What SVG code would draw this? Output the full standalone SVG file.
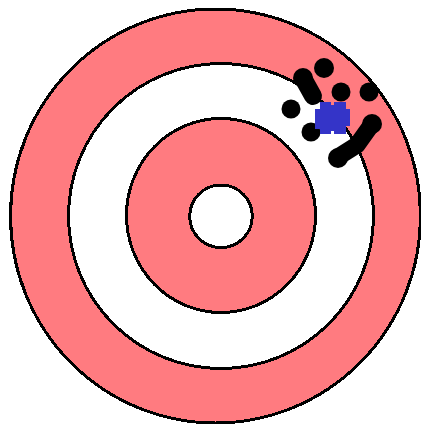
<svg xmlns="http://www.w3.org/2000/svg" width="421" height="424" viewBox="0 0 421 424">
<style>
.ring{stroke:#000;stroke-width:3}
.pink{fill:#ff7b80}
.white{fill:#fff}
.hit{fill:#000}
.trail{fill:none;stroke:#000;stroke-linecap:round;stroke-linejoin:round}
</style>
<rect width="421" height="424" fill="#fff"/>
<g id="target" shape-rendering="crispEdges">
<ellipse class="ring pink" cx="215.5" cy="216" rx="205" ry="207"/>
<circle class="ring white" cx="221" cy="216" r="152.5"/>
<ellipse class="ring pink" cx="221" cy="215.5" rx="94.5" ry="97"/>
<circle class="ring white" cx="221" cy="216.3" r="31.3"/>
</g>
<g id="hits">
<circle class="hit" cx="324" cy="68" r="10"/>
<circle class="hit" cx="303" cy="78" r="10"/>
<path class="trail" d="M303 78 L313 96" stroke-width="18"/>
<circle class="hit" cx="341" cy="92" r="9.5"/>
<circle class="hit" cx="369" cy="92" r="9.5"/>
<circle class="hit" cx="291" cy="109" r="9.5"/>
<circle class="hit" cx="311" cy="132" r="9.5"/>
<circle class="hit" cx="372" cy="124" r="10"/>
<path class="trail" d="M372 124 L357 145 L338 157" stroke-width="17"/>
<circle class="hit" cx="338" cy="158" r="10"/>
</g>
<g id="center-hit">
<path d="M320 102 H331 V105 H334 V102 H346 V109 H350 V126 H346 V134 H334 V131 H331 V134 H320 V129 H315 V109 H320 Z" fill="#3434c8"/>
</g>
</svg>
